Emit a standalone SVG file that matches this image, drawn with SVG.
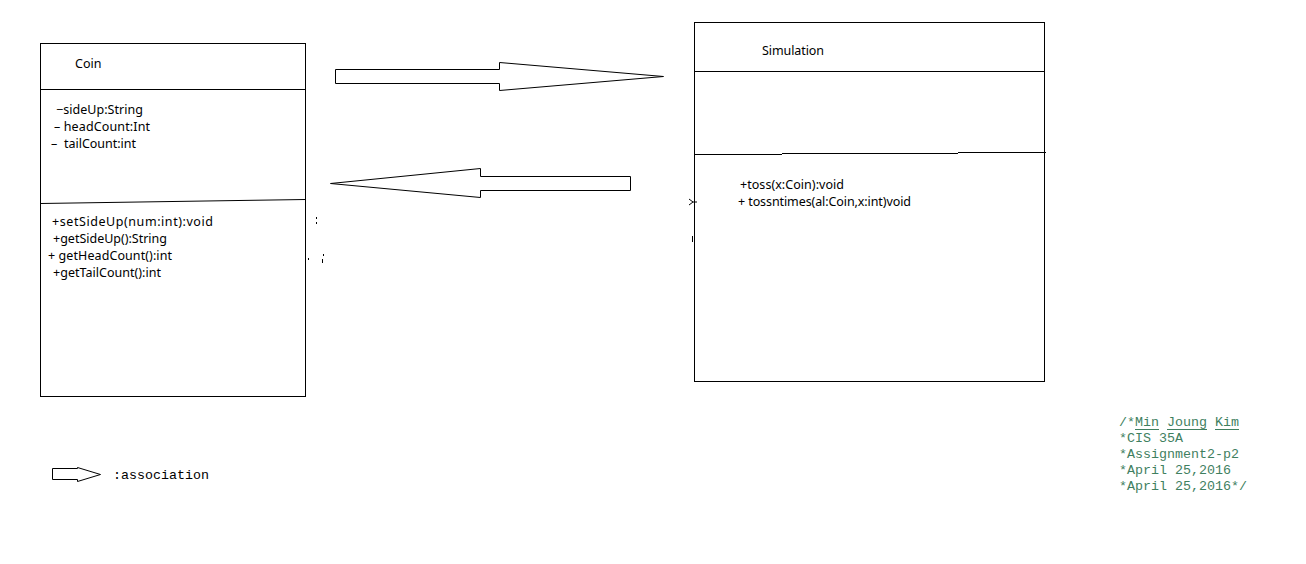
<svg xmlns="http://www.w3.org/2000/svg" width="1306" height="564" viewBox="0 0 1306 564">
<style>
.box{fill:#fff;stroke:#000;stroke-width:1}
.ln{fill:none;stroke:#000;stroke-width:1}
.t{font-family:"Noto Sans","Open Sans",sans-serif;font-size:12.5px;fill:#000}
.m{font-family:"Liberation Mono","Courier New",monospace;font-size:13.33px;fill:#000}
.c{font-family:"Liberation Mono","Courier New",monospace;font-size:13.33px;fill:#3f7f5f}
.ar{fill:#fff;stroke:#000;stroke-width:1}
</style>
<rect width="1306" height="564" fill="#fff"/>
<g id="coin">
<rect class="box" x="40.5" y="43.5" width="265" height="353"/>
<path class="ln" d="M40.5 89.5H305.5M40.5 203.5L305.5 199.5"/>
<text class="t" x="75" y="68">Coin</text>
<text class="t" x="56" y="114" textLength="87">−sideUp:String</text>
<text class="t" x="54" y="131" textLength="96">– headCount:Int</text>
<text class="t" x="51" y="148">–<tspan x="64" textLength="72">tailCount:int</tspan></text>
<text class="t" x="52" y="226" textLength="161">+setSideUp(num:int):void</text>
<text class="t" x="53" y="243" textLength="114">+getSideUp():String</text>
<text class="t" x="48" y="260" textLength="124">+ getHeadCount():int</text>
<text class="t" x="53" y="277" textLength="108">+getTailCount():int</text>
</g>
<g id="simulation">
<rect class="box" x="694.5" y="22.5" width="350" height="359"/>
<path class="ln" d="M694.5 71.5H1044.5M694.5 154.5H782M782 153.5H958M958 152.5H1046"/>
<text class="t" x="762" y="55" textLength="62">Simulation</text>
<text class="t" x="740" y="189" textLength="104">+toss(x:Coin):void</text>
<text class="t" x="738" y="206" textLength="173">+ tossntimes(al:Coin,x:int)void</text>
</g>
<g id="connectors">
<polygon class="ar" points="335.5,69.5 499.5,69.5 499.5,62.5 663.5,76.5 499.5,90.5 499.5,83.5 335.5,83.5"/>
<polygon class="ar" points="630.5,176.5 480.5,176.5 480.5,168.5 330.5,183.5 480.5,197.5 480.5,190.5 630.5,190.5"/>
</g>
<g id="marks">
<path class="ln" d="M316.5 217v2M316.5 222v2M308.5 258v2M323.5 254v2M322.5 259v4M689 199l4 3l-4 3M693 202h4M692.5 236v6"/>
</g>
<g id="legend">
<polygon class="ar" points="52.5,468.5 77.5,468.5 77.5,467.5 100.5,474.5 77.5,481.5 77.5,479.5 52.5,479.5"/>
<text class="m" x="113" y="479">:association</text>
</g>
<g id="comment">
<text class="c" x="1119" y="426">/*Min Joung Kim</text>
<text class="c" x="1119" y="442">*CIS 35A</text>
<text class="c" x="1119" y="458">*Assignment2-p2</text>
<text class="c" x="1119" y="474">*April 25,2016</text>
<text class="c" x="1119" y="490">*April 25,2016*/</text>
<path d="M1135 429.5h24M1167 429.5h40M1215 429.5h24" stroke="#3f7f5f" stroke-width="1" fill="none"/>
</g>
</svg>
